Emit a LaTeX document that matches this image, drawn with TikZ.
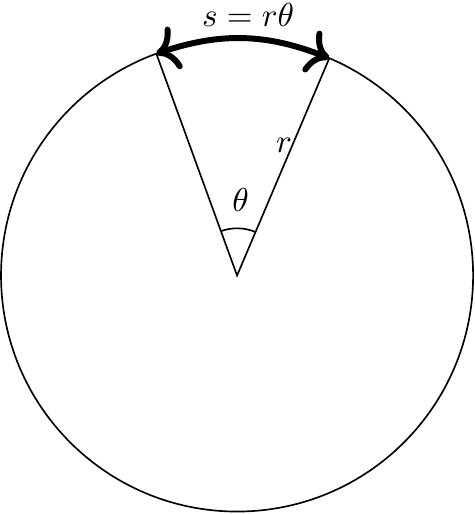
\documentclass[tikz,border=0pt]{standalone}
\usetikzlibrary{arrows.meta}
\begin{document}
\begin{tikzpicture}[
  thinline/.style={line width=0.5pt},
  arcarrow/.style={{To[scale=1.15]}-{To[scale=1.15]}, line width=1.8pt},
  lbl/.style={inner sep=0pt}
]
\useasboundingbox (-2.511,-2.526) rectangle (2.511,2.918);
\coordinate (O) at (0,0);
\coordinate (A) at (110:2.5);
\coordinate (B) at (67:2.5);
\draw[thinline] (O) circle (2.5);
\draw[thinline] (A) -- (O) -- (B);
\draw[thinline] (110:0.5) arc (110:67:0.5);
\draw[arcarrow] (A) to[bend left=20] (B);
\node[lbl] (theta) at (0.037,0.805) {$\theta$};
\node[lbl] (r) at (0.498,1.377) {$r$};
\node[lbl] (s) at (0.117,2.756) {$s = r\theta$};
\end{tikzpicture}
\end{document}
